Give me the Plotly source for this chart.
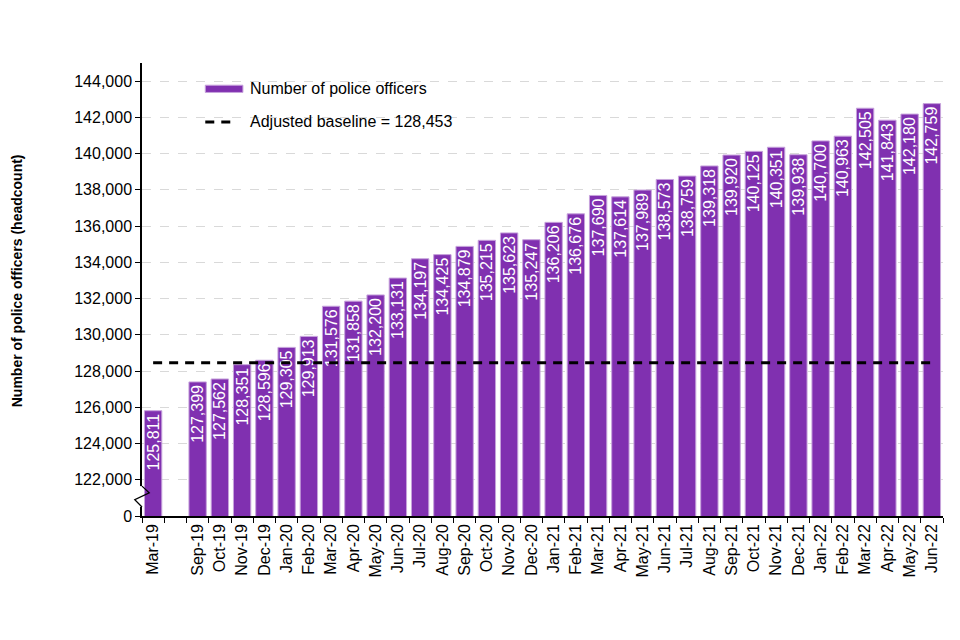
import plotly.graph_objects as go

# monthly police officer headcount (a blank slot separates Mar-19 from Sep-19)
months = ["Mar-19", " ", "Sep-19", "Oct-19", "Nov-19", "Dec-19",
          "Jan-20", "Feb-20", "Mar-20", "Apr-20", "May-20", "Jun-20",
          "Jul-20", "Aug-20", "Sep-20", "Oct-20", "Nov-20", "Dec-20",
          "Jan-21", "Feb-21", "Mar-21", "Apr-21", "May-21", "Jun-21",
          "Jul-21", "Aug-21", "Sep-21", "Oct-21", "Nov-21", "Dec-21",
          "Jan-22", "Feb-22", "Mar-22", "Apr-22", "May-22", "Jun-22"]
officers = [125811, None, 127399, 127562, 128351, 128596,
            129305, 129913, 131576, 131858, 132200, 133131,
            134197, 134425, 134879, 135215, 135623, 135247,
            136206, 136676, 137690, 137614, 137989, 138573,
            138759, 139318, 139920, 140125, 140351, 139938,
            140700, 140963, 142505, 141843, 142180, 142759]
baseline = 128453

# broken axis: the bottom tick stands for zero
tick_vals = list(range(120000, 144001, 2000))
tick_text = ["0"] + [f"{v:,}" for v in tick_vals[1:]]

purple = "#8030B0"
font = "Liberation Sans, Arial, sans-serif"

fig = go.Figure()
fig.add_trace(go.Bar(
    x=months, y=officers,
    marker=dict(color=purple, line=dict(color="#C7A3DC", width=1)),
    text=[f"{v:,}" if v else "" for v in officers],
    textposition="inside", insidetextanchor="end", textangle=-90,
    textfont=dict(color="white", size=16, family=font),
    name="Number of police officers",
))
fig.add_trace(go.Scatter(
    x=months, y=[baseline] * len(months), mode="lines",
    line=dict(color="black", width=3, dash="9px,7px"),
    name=f"Adjusted baseline = {baseline:,}",
))

# page body adds an 8px offset, so the figure is a bit smaller than the window
fig.update_layout(
    width=952, height=632,
    margin=dict(l=134, r=17, t=55, b=124),
    plot_bgcolor="white", paper_bgcolor="white",
    font=dict(family=font, size=16, color="black"),
    showlegend=False, bargap=0.22,
    uniformtext=dict(minsize=16, mode="show"),
)
fig.update_xaxes(
    type="category", tickangle=-90, tickson="boundaries",
    ticks="outside", ticklen=5, tickcolor="black",
    showline=True, linecolor="black", linewidth=1.5,
    showgrid=False, tickfont=dict(size=16),
)
fig.update_yaxes(
    range=[120000, 145000], tickvals=tick_vals, ticktext=tick_text,
    ticks="outside", ticklen=5, tickcolor="black",
    showline=True, linecolor="black", linewidth=1.5,
    showgrid=True, gridcolor="#D9D9D9", griddash="dash", gridwidth=1,
    zeroline=False, tickfont=dict(size=16),
)

# axis break marker
fig.add_shape(type="line", xref="paper", yref="paper", x0=0, x1=0, y0=0.02, y1=0.066,
              line=dict(color="white", width=4))
fig.add_shape(type="path", xref="paper", yref="paper",
              path="M 0 0.066 L 0.009 0.051 L -0.009 0.036 L 0 0.02",
              line=dict(color="black", width=1.3))

# legend drawn by hand to get the wide swatch
fig.add_shape(type="rect", xref="paper", yref="paper", x0=0.079, x1=0.126, y0=0.935, y1=0.951,
              fillcolor=purple, line=dict(color="#C7A3DC", width=1))
fig.add_annotation(x=0.132, y=0.943, xref="paper", yref="paper", text="Number of police officers",
                   showarrow=False, xanchor="left", yanchor="middle", font=dict(size=16))
fig.add_shape(type="line", xref="paper", yref="paper", x0=0.079, x1=0.118, y0=0.870, y1=0.870,
              line=dict(color="black", width=3, dash="9px,7px"))
fig.add_annotation(x=0.132, y=0.870, xref="paper", yref="paper",
                   text=f"Adjusted baseline = {baseline:,}",
                   showarrow=False, xanchor="left", yanchor="middle", font=dict(size=16))

fig.add_annotation(x=-0.155, y=0.52, xref="paper", yref="paper",
                   text="<b>Number of police officers (headcount)</b>", textangle=-90,
                   showarrow=False, xanchor="center", yanchor="middle", font=dict(size=14))

fig.write_html("out.html")
